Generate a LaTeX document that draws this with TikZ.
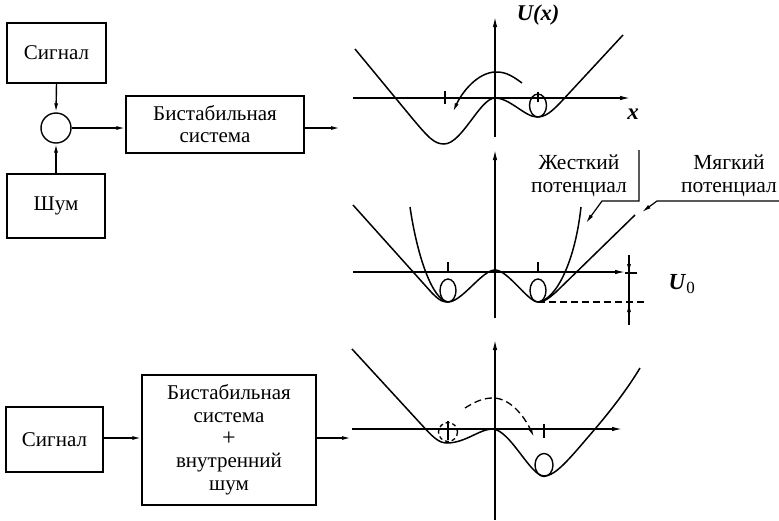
\documentclass[tikz,border=0pt]{standalone}
\usepackage{fontspec}
\setmainfont{Liberation Serif}
\usetikzlibrary{arrows.meta}
\begin{document}
\begin{tikzpicture}[x=1pt,y=-1pt, line width=1.4pt,
 box/.style={draw, line width=1.4pt, inner sep=0pt, align=center, font=\fontsize{21}{22}\selectfont},
 arr/.style={-{Latex[length=9pt,width=4pt]}},
 lbl/.style={font=\fontsize{21.5}{23}\selectfont, align=center, inner sep=0pt},
 ax/.style={-{Latex[length=10pt,width=4.5pt]}, line width=1.3pt},
 curve/.style={line width=1.5pt},
 tick/.style={line width=1.2pt},
 dsh/.style={dash pattern=on 7pt off 4pt, line width=1.3pt}
]
\useasboundingbox (0,0) rectangle (779,520);

% ---------- top block diagram ----------
\node[box, minimum width=99pt, minimum height=60pt] (sig1) at (56.5,53) {Сигнал};
\node[draw, circle, minimum size=30pt, inner sep=0pt, line width=1.4pt] (sum) at (56,128) {};
\node[box, minimum width=98pt, minimum height=64pt] (noise) at (56,206) {Шум};
\node[box, minimum width=178pt, minimum height=57pt] (bis1) at (215,124.5) {Бистабильная\\система};
\coordinate (out1) at (340,128);
\draw[arr] (sig1.south) -- (sum.north);
\draw[arr] (noise.north) -- (sum.south);
\draw[arr] (sum.east) -- (bis1.west |- sum.east);
\draw[arr] (bis1.east |- sum.east) -- (out1);

% ---------- bottom block diagram ----------
\node[box, minimum width=97pt, minimum height=65pt] (sig2) at (54.5,439.5) {Сигнал};
\node[box, minimum width=174pt, minimum height=130pt, font=\fontsize{21}{22.7}\selectfont] (bis2) at (229,440) {Бистабильная\\система\\{\fontsize{24}{22.7}\selectfont +}\\внутренний\\шум};
\coordinate (out2) at (351,438);
\draw[arr] (sig2.east |- 0,438) -- (bis2.west |- 0,438);
\draw[arr] (bis2.east |- 0,438) -- (out2);

% ---------- top potential ----------
\draw[ax] (495,137) -- (495,17);
\draw[ax] (353,98) -- (630,98);
\node[lbl, font=\fontsize{22.5}{24}\selectfont\bfseries\itshape] (ux) at (538,15) {U(x)};
\node[lbl, font=\fontsize{23}{24}\selectfont\bfseries\itshape] (xl) at (633,114) {x};
\draw[curve] (355,49) -- (412,118) .. controls (428,137) and (434,144) .. (444,144)
  .. controls (462,144) and (480,98) .. (495,98)
  .. controls (510,98) and (525,117) .. (537,117)
  .. controls (546,117) and (552,111) .. (560,103) -- (623,35);
\draw[tick] (445,91) -- (445,104);
\draw[tick] (538,92) -- (538,102);
\draw[line width=1.4pt] (538,105.5) ellipse [x radius=8.5, y radius=11.5];
\draw[arr, curve] (522,83) .. controls (510,74) and (504,72) .. (496,72)
  .. controls (478,72) and (462,92) .. (453,112);

% ---------- middle potential ----------
\draw[ax] (495,318) -- (495,150);
\draw[ax] (353,272) -- (625,272);
\draw[curve] (353,205) -- (432,293) .. controls (440,301) and (443,302) .. (448,302)
  .. controls (462,302) and (482,270) .. (495,270)
  .. controls (508,270) and (528,302) .. (538,302)
  .. controls (544,302) and (548,299) .. (556,292) -- (635,215);
\draw[curve] (410,207) .. controls (417,255) and (432,300) .. (448,302);
\draw[curve] (538,302) .. controls (556,300) and (575,262) .. (581,207);
\draw[tick] (448,262) -- (448,272);
\draw[tick] (538,262) -- (538,272);
\draw[line width=1.4pt] (448,290.5) ellipse [x radius=8, y radius=11.5];
\draw[line width=1.4pt] (538,290.5) ellipse [x radius=8, y radius=11.5];
\draw[dsh] (538,302) -- (645,302);
\draw[line width=1.2pt] (629,255) -- (629,325);
\draw[arr, line width=1.2pt] (629,258) -- (629,273);
\draw[arr, line width=1.2pt] (629,320) -- (629,303);
\draw[tick] (625,273) -- (637,273);
\node[lbl, anchor=west] (u0) at (668,284) {\fontsize{23}{24}\selectfont\bfseries\itshape U\/\raisebox{-0.35ex}{\fontsize{17}{17}\selectfont\mdseries\upshape 0}};

\node[lbl] (hard) at (579,176) {Жесткий\\потенциал};
\node[lbl] (soft) at (729,176) {Мягкий\\потенциал};
\coordinate (h1) at (639,150);
\coordinate (h2) at (639,201);
\coordinate (h3) at (602,201);
\coordinate (h4) at (586,223);
\draw[arr, line width=1.2pt] (h1) -- (h2) -- (h3) -- (h4);
\coordinate (s1) at (779,201);
\coordinate (s2) at (657,201);
\coordinate (s3) at (642,212);
\draw[arr, line width=1.2pt] (s1) -- (s2) -- (s3);

% ---------- bottom potential ----------
\draw[ax] (495,520) -- (495,340);
\draw[ax] (352,429) -- (622,429);
\draw[curve] (352,349) -- (420,423) .. controls (432,436) and (438,443) .. (447,443)
  .. controls (465,443) and (480,429) .. (492,429)
  .. controls (510,429) and (530,476) .. (544,476)
  .. controls (556,476) and (570,458) .. (595,429)
  .. controls (612,409) and (628,388) .. (640,368);
\draw[tick] (448,421) -- (448,440);
\draw[dash pattern=on 4pt off 3pt, line width=1.3pt] (448,432) circle [radius=9.5];
\draw[tick] (544,424) -- (544,438);
\draw[line width=1.4pt] (544,465) ellipse [x radius=9, y radius=11.5];
\draw[arr, curve, dsh] (465,408) .. controls (476,401) and (484,398) .. (493,398)
  .. controls (512,398) and (526,420) .. (534,437);
\end{tikzpicture}
\end{document}
